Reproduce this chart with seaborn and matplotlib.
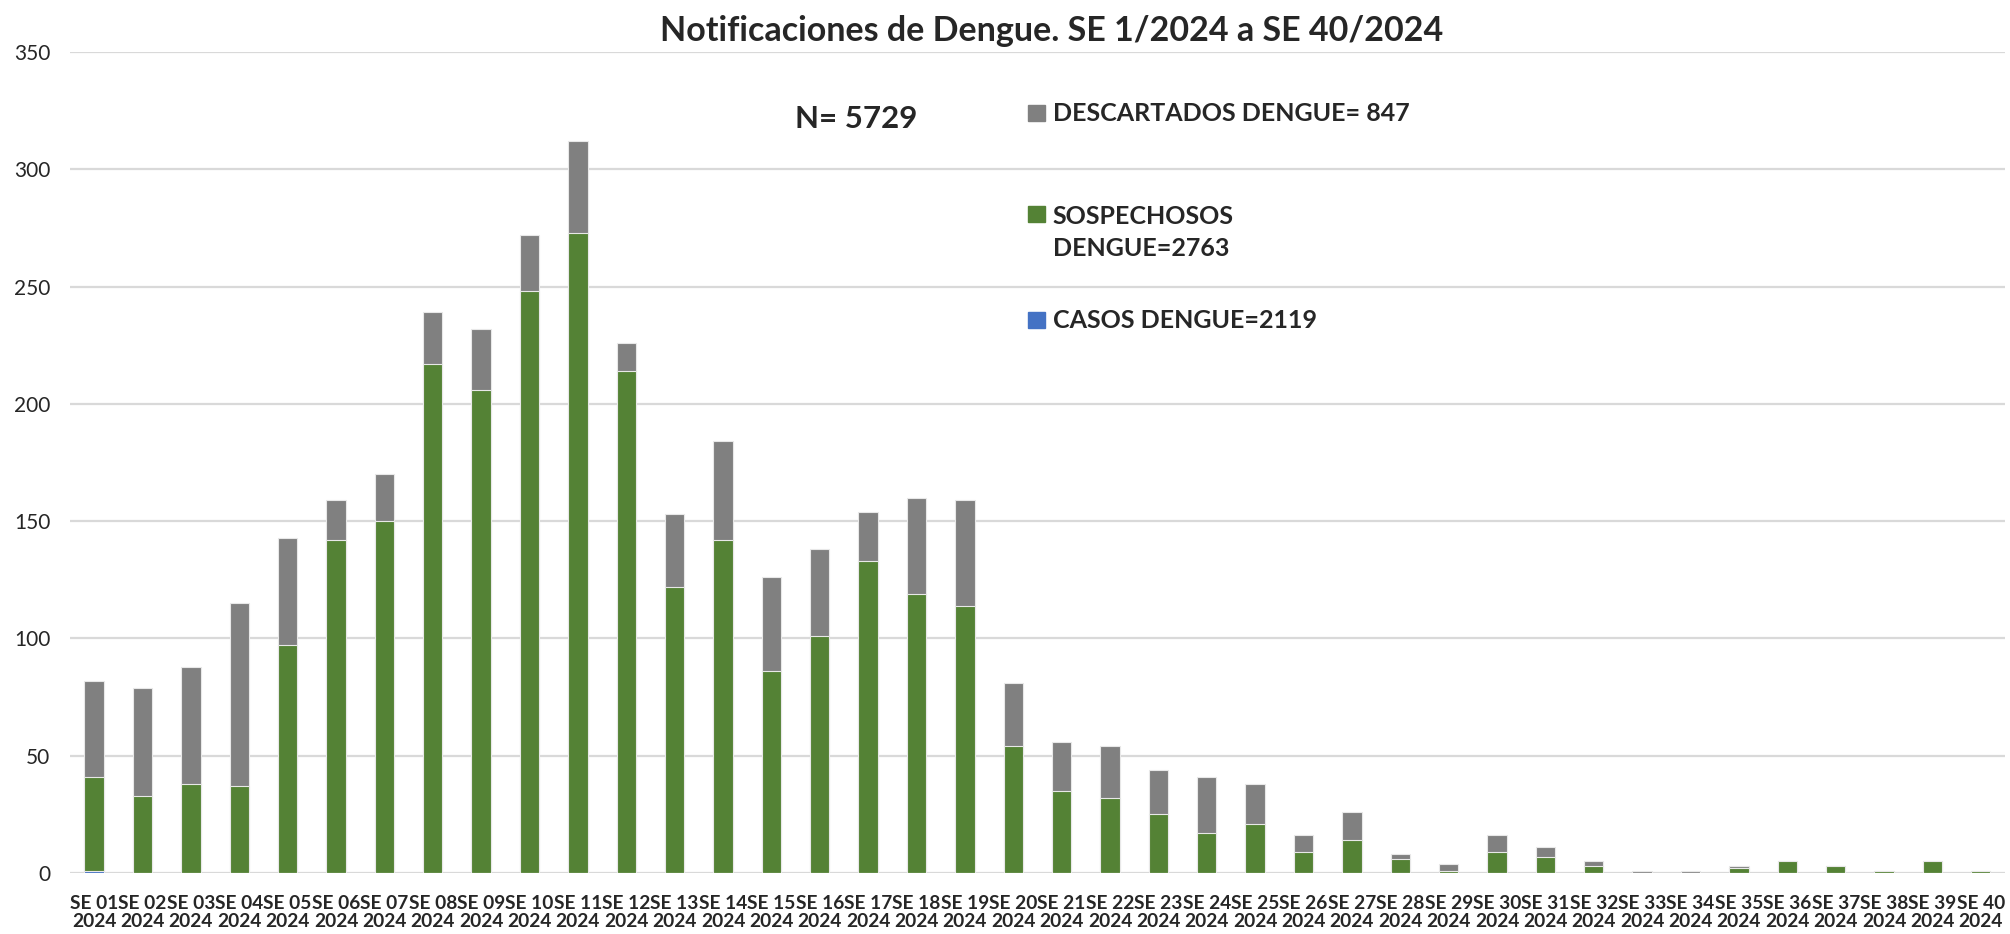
import matplotlib
matplotlib.use('Agg')
import matplotlib.pyplot as plt
import pandas as pd
import seaborn as sns
from matplotlib.patches import Rectangle

# Semanas epidemiológicas 1..40
semanas = [f"SE {i:02d}\n2024" for i in range(1, 41)]

casos = [1] + [0] * 39
sospechosos = [40, 33, 38, 37, 97, 142, 150, 217, 206, 248,
               273, 214, 122, 142, 86, 101, 133, 119, 114, 54,
               35, 32, 25, 17, 21, 9, 14, 6, 1, 9,
               7, 3, 0, 0, 2, 5, 3, 1, 5, 1]
descartados = [41, 46, 50, 78, 46, 17, 20, 22, 26, 24,
               39, 12, 31, 42, 40, 37, 21, 41, 45, 27,
               21, 22, 19, 24, 17, 7, 12, 2, 3, 7,
               4, 2, 1, 1, 1, 0, 0, 0, 0, 0]

legend_labels = ["DESCARTADOS DENGUE= 847", "SOSPECHOSOS\nDENGUE=2763", "CASOS DENGUE=2119"]
total_label = "N= 5729"
title = "Notificaciones de Dengue. SE 1/2024 a SE 40/2024"

GRAY = '#808080'
GREEN = '#548235'
BLUE = '#4472C4'


def main():
    sns.set_theme(style="white")
    plt.rcParams['font.family'] = ['Lato', 'DejaVu Sans']

    df = pd.DataFrame({'semana': semanas, 'casos': casos,
                       'sospechosos': sospechosos, 'descartados': descartados})
    # cumulative heights so the layers stack
    df['nivel_verde'] = df['casos'] + df['sospechosos']
    df['nivel_total'] = df['nivel_verde'] + df['descartados']

    fig = plt.figure(figsize=(20.1, 9.34), dpi=100)
    ax = fig.add_axes([0.0348, 0.0653, 0.9627, 0.879])

    kw = dict(width=0.4, edgecolor='#e8e8e8', linewidth=0.8, ax=ax, zorder=3)
    sns.barplot(data=df, x='semana', y='nivel_total', color=GRAY, saturation=1, **kw)
    sns.barplot(data=df, x='semana', y='nivel_verde', color=GREEN, saturation=1, **kw)
    sns.barplot(data=df, x='semana', y='casos', color=BLUE, saturation=1, **kw)

    ax.set_ylim(0, 350)
    ax.set_xlim(-0.5, 39.5)
    ax.set_yticks(range(0, 351, 50))
    ax.grid(axis='y', color='#d9d9d9', linewidth=1.6, zorder=0)
    ax.set_axisbelow(True)
    sns.despine(ax=ax, left=True, bottom=True, top=True, right=True)
    ax.set_xlabel('')
    ax.set_ylabel('')
    ax.set_xticks(range(len(semanas)))
    ax.set_xticklabels(semanas, fontsize=13.8, fontweight='bold', linespacing=1.05)
    ax.tick_params(axis='x', length=0, pad=16)
    ax.tick_params(axis='y', length=0, pad=14, labelsize=15)

    fig.text(0.523, 0.967, title, ha='center', va='center', fontsize=24.5, fontweight='bold')
    fig.text(0.426, 0.873, total_label, ha='center', va='center', fontsize=22.5, fontweight='bold')

    # manual legend
    colors = [GRAY, GREEN, BLUE]
    ys = [0.879, 0.751, 0.657]
    sq_ys = [0.879, 0.771, 0.657]
    for lab, c, y, sy in zip(legend_labels, colors, ys, sq_ys):
        fig.patches.append(Rectangle((0.5115, sy - 0.0085), 0.0083, 0.017,
                                     transform=fig.transFigure, color=c, figure=fig))
        fig.text(0.5237, y, lab, ha='left', va='center', fontsize=18, fontweight='bold',
                 linespacing=1.45)

    fig.savefig('out.png', dpi=100)
    plt.close(fig)


if __name__ == '__main__':
    main()
